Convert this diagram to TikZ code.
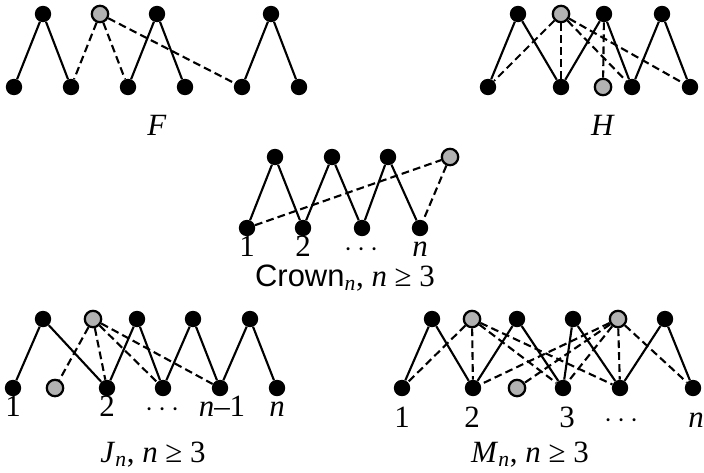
\documentclass[tikz,border=0pt]{standalone}
\usepackage{fontspec}
\setmainfont{Liberation Serif}
\newfontfamily\crownfont{Liberation Sans}

\tikzset{
  vtx/.style={circle,fill=black,inner sep=0pt,minimum size=0.41cm},
  gvtx/.style={circle,draw=black,line width=1.6pt,fill=black!30,inner sep=0pt,minimum size=0.41cm},
  sedge/.style={line width=1.5pt},
  dedge/.style={line width=1.5pt,dash pattern=on 5.5pt off 3pt},
  lbl/.style={font=\fontsize{22}{26}\selectfont,anchor=base,inner sep=0pt}
}

\begin{document}
\begin{tikzpicture}[x=0.025cm,y=-0.025cm]
\useasboundingbox (0,0) rectangle (704,473);

% F
\foreach \x [count=\i] in {14,71,128,185,242,299}
  \node[vtx] (fb\i) at (\x,87) {};
\foreach \x/\s [count=\i] in {43/vtx,100/gvtx,157/vtx,271/vtx}
  \node[\s] (ft\i) at (\x,14) {};
\foreach \a/\b in {fb1/ft1,ft1/fb2,fb3/ft3,ft3/fb4,fb5/ft4,ft4/fb6}
  \draw[sedge] (\a) -- (\b);
\foreach \b in {fb2,fb3,fb5}
  \draw[dedge] (ft2) -- (\b);
\node[lbl] (fcap) at (157,135) {\textit{F}};

% H
\foreach \x/\s [count=\i] in {488/vtx,561/vtx,603/gvtx,632/vtx,690/vtx}
  \node[\s] (hb\i) at (\x,87) {};
\foreach \x/\s [count=\i] in {518/vtx,561/gvtx,604/vtx,662/vtx}
  \node[\s] (ht\i) at (\x,14) {};
\foreach \a/\b in {hb1/ht1,ht1/hb2,hb2/ht3,ht3/hb4,hb4/ht4,ht4/hb5}
  \draw[sedge] (\a) -- (\b);
\foreach \a/\b in {ht2/hb1,ht2/hb2,ht2/hb4,ht2/hb5,ht3/hb3}
  \draw[dedge] (\a) -- (\b);
\node[lbl] (hcap) at (603,135) {\textit{H}};

% Crown
\foreach \x [count=\i] in {247,303,362,420}
  \node[vtx] (cb\i) at (\x,228) {};
\foreach \x/\s [count=\i] in {275/vtx,332/vtx,388/vtx,450/gvtx}
  \node[\s] (ct\i) at (\x,157) {};
\foreach \a/\b in {cb1/ct1,ct1/cb2,cb2/ct2,ct2/cb3,cb3/ct3,ct3/cb4}
  \draw[sedge] (\a) -- (\b);
\draw[dedge] (cb1) -- (ct4) -- (cb4);
\foreach \t/\x [count=\i] in {1/247,2/303,$\cdots$/362,\textit{n}/420}
  \node[lbl] (cl\i) at (\x,256) {\t};
\node[lbl] (ccap) at (345,286) {{\crownfont Crown}\textsubscript{\textit{n}}, \textit{n} ≥ 3};

% J_n
\foreach \x/\s [count=\i] in {13/vtx,55/gvtx,107/vtx,163/vtx,220/vtx,277/vtx}
  \node[\s] (jb\i) at (\x,388) {};
\foreach \x/\s [count=\i] in {43/vtx,93/gvtx,137/vtx,193/vtx,250/vtx}
  \node[\s] (jt\i) at (\x,319) {};
\foreach \a/\b in {jb1/jt1,jt1/jb3,jb3/jt3,jt3/jb4,jb4/jt4,jt4/jb5,jb5/jt5,jt5/jb6}
  \draw[sedge] (\a) -- (\b);
\foreach \b in {jb2,jb3,jb4,jb5}
  \draw[dedge] (jt2) -- (\b);
\foreach \t/\x [count=\i] in {1/13,2/107,$\cdots$/163,\textit{n}--1/222,\textit{n}/277}
  \node[lbl] (jl\i) at (\x,416) {\t};
\node[lbl] (jcap) at (153,462) {\textit{J}\textsubscript{\textit{n}}, \textit{n} ≥ 3};

% M_n
\foreach \x/\s [count=\i] in {402/vtx,473/vtx,517/gvtx,563/vtx,620/vtx,693/vtx}
  \node[\s] (mb\i) at (\x,388) {};
\foreach \x/\s [count=\i] in {432/vtx,472/gvtx,517/vtx,573/vtx,618/gvtx,665/vtx}
  \node[\s] (mt\i) at (\x,319) {};
\foreach \a/\b in {mb1/mt1,mt1/mb2,mb2/mt3,mt3/mb4,mb4/mt4,mt4/mb5,mb5/mt6,mt6/mb6}
  \draw[sedge] (\a) -- (\b);
\foreach \b in {mb1,mb2,mb4,mb5}
  \draw[dedge] (mt2) -- (\b);
\foreach \b in {mb2,mb3,mb4,mb5,mb6}
  \draw[dedge] (mt5) -- (\b);
\foreach \t/\x [count=\i] in {1/402,2/472,3/567,$\cdots$/622,\textit{n}/696}
  \node[lbl] (ml\i) at (\x,427) {\t};
\node[lbl] (mcap) at (530,462) {\textit{M}\textsubscript{\textit{n}}, \textit{n} ≥ 3};
\end{tikzpicture}
\end{document}
